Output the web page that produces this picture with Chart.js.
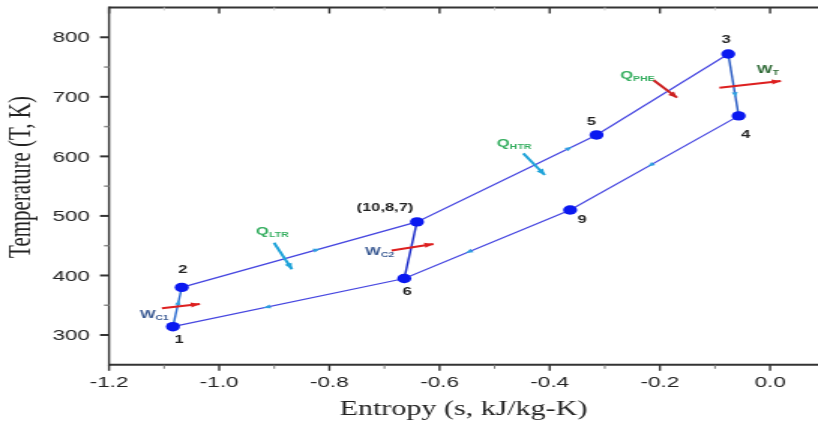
<!DOCTYPE html>
<html>
<head>
<meta charset="utf-8">
<script src="https://cdn.jsdelivr.net/npm/chart.js@4.4.1/dist/chart.umd.min.js"></script>
<style>
  html, body { margin: 0; padding: 0; background: #fff; overflow: hidden; }
  #wrap { width: 818px; height: 428px; overflow: hidden; }
  /* the source figure is stretched sideways, so draw narrow and stretch */
  #c { display: block; transform: scaleX(1.50092); transform-origin: 0 0; }
</style>
</head>
<body>
<div id="wrap"><canvas id="c" width="545" height="428"></canvas></div>
<script>
// cycle state points (T-s diagram)
const stateLabels = ['1', '2', '(10,8,7)', '5', '3', '4', '9', '6'];
const entropy = [-1.084, -1.068, -0.641, -0.315, -0.076, -0.057, -0.363, -0.664];
const temperature = [314, 380, 490, 636, 772, 668, 510, 395];

// process path through the states, 6 -> (10,8,7) is drawn separately
const cyclePath = [0, 1, 2, 3, 4, 5, 6, 7, 0];
const compressor2 = [7, 2];

const xTickValues = [-1.2, -1.0, -0.8, -0.6, -0.4, -0.2, 0.0];
const yTickValues = [300, 400, 500, 600, 700, 800];

const S = 818 / 545;           // horizontal stretch of the canvas
const sx = v => v / S;         // screen px -> canvas px (horizontal)

// label offsets in screen px [dx, dy]
const labelOffsets = [[6, 13], [1, -17], [-32, -14], [-5, -13], [-2, -14], [7, 19], [12, 10], [3, 14]];

// heat / work arrows, in data units
const arrows = [
  { from: [-1.104, 345], to: [-1.035, 352], color: '#dd2020' },
  { from: [-0.9005, 455], to: [-0.868, 410.5], color: '#1fa3d9' },
  { from: [-0.687, 442], to: [-0.611, 453], color: '#dd2020' },
  { from: [-0.448, 605], to: [-0.409, 568.7], color: '#1fa3d9' },
  { from: [-0.212, 728.3], to: [-0.169, 698.6], color: '#cc2020' },
  { from: [-0.092, 715.4], to: [0.0196, 726.6], color: '#dd2020' }
];
const arrowTexts = [
  { at: [-1.144, 328.5], main: 'W', sub: 'C1', color: '#3d5c94' },
  { at: [-0.933, 468], main: 'Q', sub: 'LTR', color: '#33ad5e' },
  { at: [-0.735, 434], main: 'W', sub: 'C2', color: '#3d5c94' },
  { at: [-0.496, 616], main: 'Q', sub: 'HTR', color: '#33ad5e' },
  { at: [-0.272, 730], main: 'Q', sub: 'PHE', color: '#33ad5e' },
  { at: [-0.024, 740], main: 'W', sub: 'T', color: '#2f6a36' }
];
// small flow arrows along the path: [fromState, toState, fraction]
const flowMarks = [[0, 1, 0.68], [1, 2, 0.59], [2, 3, 0.865], [4, 5, 0.70], [5, 6, 0.54], [6, 7, 0.63], [7, 0, 0.61]];

const pathPoints = cyclePath.map(i => ({ x: entropy[i], y: temperature[i] }));
const c2Points = compressor2.map(i => ({ x: entropy[i], y: temperature[i] }));
const statePoints = entropy.map((s, i) => ({ x: s, y: temperature[i] }));

function arrowHead(ctx, x0, y0, x1, y1, len, wid, color) {
  const a = Math.atan2(y1 - y0, x1 - x0);
  ctx.fillStyle = color;
  ctx.beginPath();
  ctx.moveTo(x1, y1);
  ctx.lineTo(x1 - len * Math.cos(a) + wid * Math.sin(a), y1 - len * Math.sin(a) - wid * Math.cos(a));
  ctx.lineTo(x1 - len * Math.cos(a) - wid * Math.sin(a), y1 - len * Math.sin(a) + wid * Math.cos(a));
  ctx.closePath();
  ctx.fill();
}

const framePlugin = {
  id: 'frame',
  beforeDatasetsDraw(chart) {
    const { ctx, chartArea: a, scales: { x, y } } = chart;
    ctx.save();
    ctx.strokeStyle = '#333';
    // top and bottom lines
    ctx.lineWidth = 2;
    ctx.beginPath();
    ctx.moveTo(a.left, a.top); ctx.lineTo(a.right, a.top);
    ctx.moveTo(a.left, a.bottom); ctx.lineTo(a.right, a.bottom);
    ctx.stroke();
    // left line
    ctx.lineWidth = 1.4;
    ctx.beginPath();
    ctx.moveTo(a.left, a.top - 1); ctx.lineTo(a.left, a.bottom + 1);
    ctx.stroke();
    // x ticks (major every 0.2, minor every 0.1)
    for (let k = -12; k <= 0; k++) {
      const px = x.getPixelForValue(k / 10);
      const major = k % 2 === 0;
      ctx.lineWidth = major ? 1.4 : 1;
      ctx.strokeStyle = major ? '#333' : '#777';
      ctx.beginPath();
      ctx.moveTo(px, a.bottom); ctx.lineTo(px, a.bottom + (major ? 6 : 4));
      ctx.stroke();
      ctx.strokeStyle = major ? '#333' : '#ccc';
      ctx.beginPath();
      ctx.moveTo(px, a.top); ctx.lineTo(px, a.top + (major ? 6 : 3));
      ctx.stroke();
    }
    // y ticks (major every 100, minor every 50)
    for (let v = 300; v <= 800; v += 50) {
      const py = y.getPixelForValue(v);
      const major = v % 100 === 0;
      ctx.lineWidth = major ? 2 : 1.5;
      ctx.strokeStyle = major ? '#333' : '#888';
      ctx.beginPath();
      ctx.moveTo(a.left, py); ctx.lineTo(a.left - sx(major ? 9 : 5), py);
      ctx.stroke();
    }
    // tick labels
    ctx.fillStyle = '#222';
    ctx.font = '15px "Liberation Sans", Arial, sans-serif';
    ctx.textBaseline = 'middle';
    ctx.textAlign = 'center';
    xTickValues.forEach(v => ctx.fillText(v.toFixed(1), x.getPixelForValue(v), 383));
    ctx.textAlign = 'right';
    yTickValues.forEach(v => ctx.fillText(String(v), sx(90), y.getPixelForValue(v) + 1));
    // axis titles
    ctx.textAlign = 'center';
    ctx.font = '20px "Liberation Serif", serif';
    ctx.fillText('Entropy (s, kJ/kg-K)', (a.left + a.right) / 2, 410);
    ctx.translate(sx(22), 177);
    ctx.rotate(-Math.PI / 2);
    ctx.font = '21px "Liberation Serif", serif';
    ctx.fillText('Temperature (T, K)', 0, 0);
    ctx.restore();
  }
};

const notesPlugin = {
  id: 'notes',
  afterDatasetsDraw(chart) {
    const { ctx, scales: { x, y } } = chart;
    ctx.save();
    // flow direction marks on the path
    flowMarks.forEach(([i, j, t]) => {
      const x0 = x.getPixelForValue(entropy[i]), y0 = y.getPixelForValue(temperature[i]);
      const x1 = x.getPixelForValue(entropy[j]), y1 = y.getPixelForValue(temperature[j]);
      const mx = x0 + (x1 - x0) * t, my = y0 + (y1 - y0) * t;
      arrowHead(ctx, x0, y0, mx, my, 5, 2, '#2f9fe0');
    });
    // heat / work arrows
    arrows.forEach(ar => {
      const x0 = x.getPixelForValue(ar.from[0]), y0 = y.getPixelForValue(ar.from[1]);
      const x1 = x.getPixelForValue(ar.to[0]), y1 = y.getPixelForValue(ar.to[1]);
      ctx.strokeStyle = ar.color;
      ctx.lineWidth = 2;
      ctx.beginPath();
      ctx.moveTo(x0, y0);
      ctx.lineTo(x1, y1);
      ctx.stroke();
      arrowHead(ctx, x0, y0, x1, y1, 6, 2.6, ar.color);
    });
    // arrow labels with subscripts
    ctx.textAlign = 'left';
    ctx.textBaseline = 'alphabetic';
    arrowTexts.forEach(t => {
      const px = x.getPixelForValue(t.at[0]), py = y.getPixelForValue(t.at[1]);
      ctx.fillStyle = t.color;
      ctx.font = 'bold 11px "Liberation Sans", Arial, sans-serif';
      ctx.fillText(t.main, px, py);
      const w = ctx.measureText(t.main).width;
      ctx.font = 'bold 7px "Liberation Sans", Arial, sans-serif';
      ctx.fillText(t.sub, px + w, py + 2);
    });
    // state labels
    ctx.fillStyle = '#222';
    ctx.textAlign = 'center';
    ctx.textBaseline = 'middle';
    ctx.font = 'bold 11px "Liberation Sans", Arial, sans-serif';
    stateLabels.forEach((lab, i) => {
      const px = x.getPixelForValue(entropy[i]), py = y.getPixelForValue(temperature[i]);
      ctx.fillText(lab, px + sx(labelOffsets[i][0]), py + labelOffsets[i][1]);
    });
    ctx.restore();
  }
};

new Chart(document.getElementById('c'), {
  type: 'scatter',
  data: {
    datasets: [
      {
        label: 'States',
        data: statePoints,
        showLine: false,
        pointRadius: 4.7,
        pointBackgroundColor: '#0a18f0',
        pointBorderColor: '#0a18f0',
        pointBorderWidth: 0
      },
      {
        label: 'C2',
        data: c2Points,
        showLine: true,
        pointRadius: 0,
        borderColor: '#1526c8',
        borderWidth: 1.4
      },
      {
        label: 'Cycle',
        data: pathPoints,
        showLine: true,
        pointRadius: 0,
        borderColor: '#4646e0',
        borderWidth: 1.2,
        segment: {
          borderColor: c => (c.p0DataIndex === 0 ? '#2a6ad0' : c.p0DataIndex === 4 ? '#2457c2' : '#4646e0'),
          borderWidth: c => (c.p0DataIndex === 0 || c.p0DataIndex === 4 ? 1.4 : 1.2)
        }
      }
    ]
  },
  options: {
    responsive: false,
    animation: false,
    devicePixelRatio: 1,
    layout: { autoPadding: false, padding: { top: 7.5, right: 0, left: 0, bottom: 0 } },
    plugins: { legend: { display: false }, tooltip: { enabled: false } },
    scales: {
      x: {
        type: 'linear',
        min: -1.2,
        max: 0.087,
        afterFit: s => { s.height = 63.2; },
        afterBuildTicks: s => { s.ticks = xTickValues.map(v => ({ value: v })); },
        grid: { display: false, drawTicks: false },
        border: { display: false },
        ticks: { display: false }
      },
      y: {
        type: 'linear',
        min: 250,
        max: 850,
        afterFit: s => { s.width = 109 / S; },
        afterBuildTicks: s => { s.ticks = yTickValues.map(v => ({ value: v })); },
        grid: { display: false, drawTicks: false },
        border: { display: false },
        ticks: { display: false }
      }
    }
  },
  plugins: [framePlugin, notesPlugin]
});
</script>
</body>
</html>
